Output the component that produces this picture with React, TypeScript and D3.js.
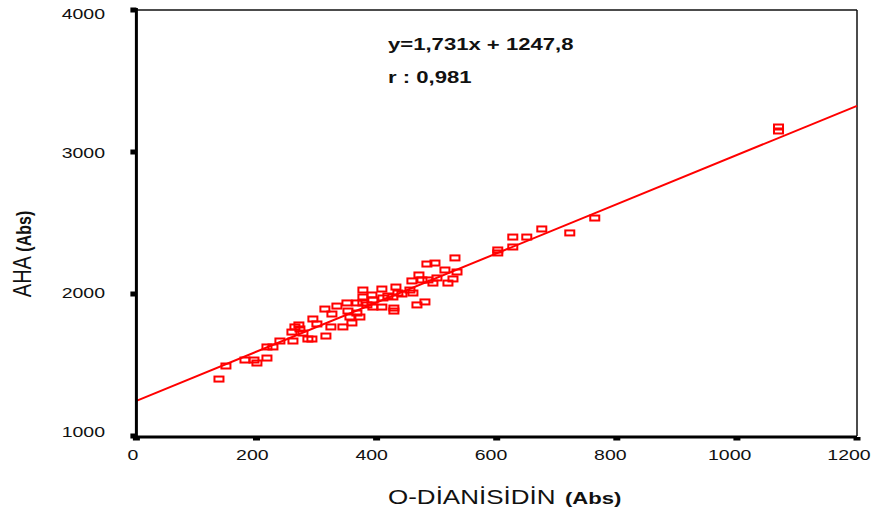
import React from "react";
import * as d3 from "d3";

const W = 874;
const H = 518;

const xTicks = [0, 200, 400, 600, 800, 1000, 1200];
const yTicks = [1000, 2000, 3000, 4000];

const slope = 1.731;
const intercept = 1247.8;
const equationText = "y=1,731x + 1247,8";
const rText = "r : 0,981";
const xTitle = "O-DİANİSİDİN";
const yTitle = "AHA";
const unitText = "(Abs)";

const odianisidin = [
  137.5, 149.1, 180.8, 195.8, 200.7, 217.4, 217.4, 227.4, 239.0, 260.7,
  259.0, 264.0, 270.6, 272.3, 277.3, 285.6, 292.3, 293.9, 300.6, 315.6,
  313.9, 325.6, 323.9, 333.9, 343.9, 350.6, 352.3, 355.6, 367.2, 367.2,
  358.9, 377.2, 383.9, 372.2, 377.2, 377.2, 392.2, 393.8, 393.8, 408.8,
  410.5, 408.8, 418.8, 427.2, 428.8, 428.8, 432.2, 435.5, 442.2, 455.5,
  458.8, 460.5, 467.2, 470.5, 475.5, 480.5, 483.8, 485.5, 497.2, 493.8,
  500.5, 513.8, 518.8, 527.2, 530.5, 533.9, 601.8, 601.8, 626.8, 626.8,
  650.1, 675.1, 721.7, 763.3, 1069.3, 1069.3,
];
const aha = [
  1401, 1493, 1535, 1535, 1514, 1549, 1627, 1627, 1669, 1669,
  1732, 1768, 1782, 1754, 1725, 1683, 1683, 1824, 1789, 1704,
  1894, 1859, 1768, 1915, 1768, 1937, 1880, 1838, 1937, 1866,
  1796, 2028, 1923, 1838, 1979, 1937, 1993, 1958, 1908, 2035,
  1972, 1908, 1986, 1979, 1901, 1880, 2049, 2007, 2000, 2028,
  2092, 2007, 1923, 2134, 2099, 1944, 2211, 2099, 2218, 2077,
  2113, 2169, 2077, 2106, 2254, 2155, 2310, 2289, 2331, 2401,
  2401, 2458, 2430, 2535, 3176, 3148,
];

const FONT = "'Liberation Sans', Arial, sans-serif";
const SX = 1.3; // horizontal stretch seen in the reference

function Txt({ x, y, anchor = "start", size, weight = "normal", children, fill = "#111" }: any) {
  return (
    <text
      transform={`translate(${x},${y}) scale(${SX},1)`}
      textAnchor={anchor}
      fontFamily={FONT}
      fontSize={size}
      fontWeight={weight}
      fill={fill}
    >
      {children}
    </text>
  );
}

export default function App() {
  const x = d3.scaleLinear().domain([0, 1200]).range([136.4, 857]);
  const xLab = d3.scaleLinear().domain([0, 1200]).range([133, 849]);
  const y = d3.scaleLinear().domain([1000, 4000]).range([436, 10]);
  const yLab = d3.scaleLinear().domain([1000, 4000]).range([437, 19]);

  const pts = odianisidin.map((v, i) => ({ x: v, y: aha[i] }));
  const line = d3
    .line<number>()
    .x((d) => x(d))
    .y((d) => y(slope * d + intercept));

  const x0 = x(0), x1 = x(1200), yTop = y(4000), yBot = y(1000);

  return (
    <svg
      width={W}
      height={H}
      style={{ position: "absolute", left: 0, top: 0, background: "#fff" }}
    >
      <rect x={0} y={0} width={W} height={H} fill="#fff" />
      {/* frame */}
      <line x1={x0} x2={x1} y1={yTop} y2={yTop} stroke="#111" strokeWidth={1.5} />
      <line x1={x1} x2={x1} y1={yTop} y2={yBot} stroke="#111" strokeWidth={1.5} />
      {/* regression line */}
      <path d={line([0, 1200]) || ""} fill="none" stroke="#ff0000" strokeWidth={2} />
      {/* points */}
      {pts.map((p, i) => (
        <rect
          key={i}
          x={x(p.x) - 4.5}
          y={y(p.y) - 2.5}
          width={9}
          height={5}
          fill="none"
          stroke="#ff0000"
          strokeWidth={2}
        />
      ))}
      {/* axes */}
      <line x1={x0} x2={x0} y1={yTop - 2} y2={yBot + 2} stroke="#000" strokeWidth={3} />
      <line x1={x0 - 1.5} x2={x1} y1={yBot + 1} y2={yBot + 1} stroke="#000" strokeWidth={3} />
      {xTicks.map((t) => (
        <g key={"xt" + t}>
          <rect x={x(t) - 3.5} y={yBot + 1} width={7} height={3.5} fill="#000" />
          <Txt x={xLab(t)} y={460} anchor="middle" size={15}>
            {t}
          </Txt>
        </g>
      ))}
      {yTicks.map((t) => (
        <g key={"yt" + t}>
          <rect x={x0 - 6} y={y(t) - 2.5} width={6} height={5} fill="#000" />
          <Txt x={105} y={yLab(t)} anchor="end" size={15}>
            {t}
          </Txt>
        </g>
      ))}
      {/* annotation */}
      <Txt x={388} y={50} size={17} weight="bold">
        {equationText}
      </Txt>
      <Txt x={388} y={83} size={17} weight="bold">
        {rText}
      </Txt>
      {/* x title */}
      <Txt x={388} y={504} size={20}>
        {xTitle}
      </Txt>
      <Txt x={565} y={504} size={17} weight="bold">
        {unitText}
      </Txt>
      {/* y title */}
      <text
        transform={`translate(31,254) scale(${SX},1) rotate(-90)`}
        textAnchor="middle"
        fontFamily={FONT}
        fontSize={20}
        fill="#111"
      >
        {yTitle + " "}
        <tspan fontWeight="bold" fontSize={16}>
          {unitText}
        </tspan>
      </text>
    </svg>
  );
}
